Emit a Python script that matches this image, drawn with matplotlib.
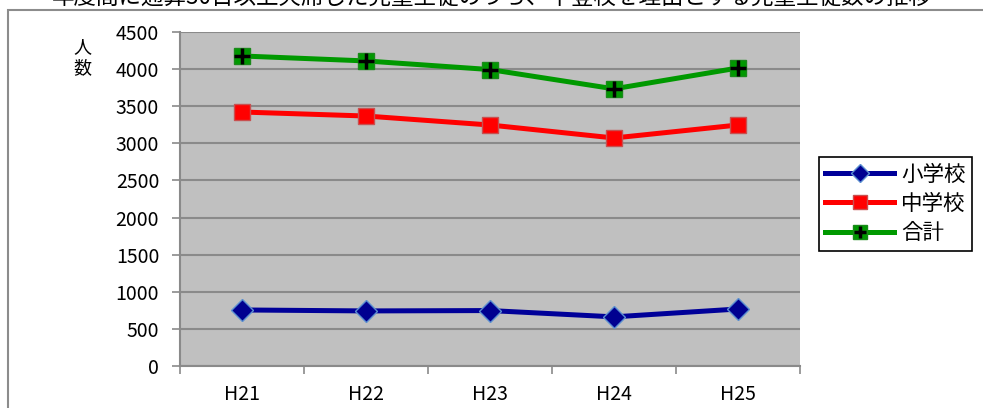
import matplotlib.pyplot as plt
from matplotlib.patches import Rectangle

plt.rcParams['font.family'] = ['Noto Sans CJK JP', 'DejaVu Sans']

# data
years = ['H21', 'H22', 'H23', 'H24', 'H25']
shogakko = [755, 742, 747, 662, 768]
chugakko = [3422, 3368, 3247, 3072, 3247]
goukei = [4177, 4110, 3994, 3734, 4015]
title = '年度間に通算30日以上欠席した児童生徒のうち、不登校を理由とする児童生徒数の推移'

W, H = 983, 408
fig = plt.figure(figsize=(W / 100, H / 100), dpi=100)

# outer chart frame (extends past the image on right/bottom)
fig.patches.append(Rectangle((8 / W, -0.1), 1.2, 1.1 - 10 / H, transform=fig.transFigure,
                             fill=False, edgecolor='#8c8c8c', linewidth=1.5))

# title is cut off at the top, as in the original
fig.text(492 / W, 1 - 4 / H, title, ha='center', va='baseline', fontsize=16.2)

ax = fig.add_axes([180 / W, 42 / H, 620 / W, 334 / H])
ax.set_facecolor('#c0c0c0')

x = list(range(len(years)))
l1, = ax.plot(x, shogakko, color='#000099', lw=3.6, marker='D', ms=11,
              mfc='#000090', mec='#5b8fd0', mew=1, label='小学校', zorder=3)
l2, = ax.plot(x, chugakko, color='#ff0000', lw=3.6, marker='s', ms=12,
              mfc='#ff0000', mec='#c85050', mew=1, label='中学校', zorder=3)
l3, = ax.plot(x, goukei, color='#009900', lw=3.6, marker='s', ms=12,
              mfc='#009900', mec='#1a8a1a', mew=1, label='合計', zorder=3)
l3p, = ax.plot(x, goukei, ls='none', marker='+', ms=11, mec='black', mew=2.5, zorder=4)

ax.set_xlim(-0.5, 4.5)
ax.set_ylim(0, 4500)
ax.set_yticks(range(0, 4501, 500))
ax.yaxis.grid(True, color='#8a8a8a', lw=1.5)
ax.set_axisbelow(True)

ax.set_xticks([i - 0.5 for i in range(len(years) + 1)])
ax.set_xticklabels([])
ax.set_xticks(x, minor=True)
ax.set_xticklabels(years, minor=True)
ax.tick_params(axis='x', which='major', direction='out', length=6, color='#8a8a8a', width=1.2)
ax.tick_params(axis='x', which='minor', length=0, pad=13, labelsize=14)
ax.tick_params(axis='y', direction='out', length=6, color='#8a8a8a', width=1.2, labelsize=14, pad=9)

for s in ['top', 'right']:
    ax.spines[s].set_visible(False)
for s in ['left', 'bottom']:
    ax.spines[s].set_color('#8a8a8a')
    ax.spines[s].set_linewidth(1.5)

fig.text(82 / W, 1 - 47 / H, '人', ha='center', va='center', fontsize=13)
fig.text(82 / W, 1 - 68 / H, '数', ha='center', va='center', fontsize=13)

leg = ax.legend([l1, l2, (l3, l3p)], ['小学校', '中学校', '合計'],
                loc='upper left', bbox_to_anchor=(819 / W, 1 - 157 / H),
                bbox_transform=fig.transFigure, fontsize=15.5, frameon=True,
                fancybox=False, edgecolor='black', framealpha=1,
                handlelength=3.2, handletextpad=0.3, borderpad=0.3,
                labelspacing=0.34, borderaxespad=0, markerscale=0.8)
leg.get_frame().set_linewidth(1.2)

fig.savefig('out.png', dpi=100)
